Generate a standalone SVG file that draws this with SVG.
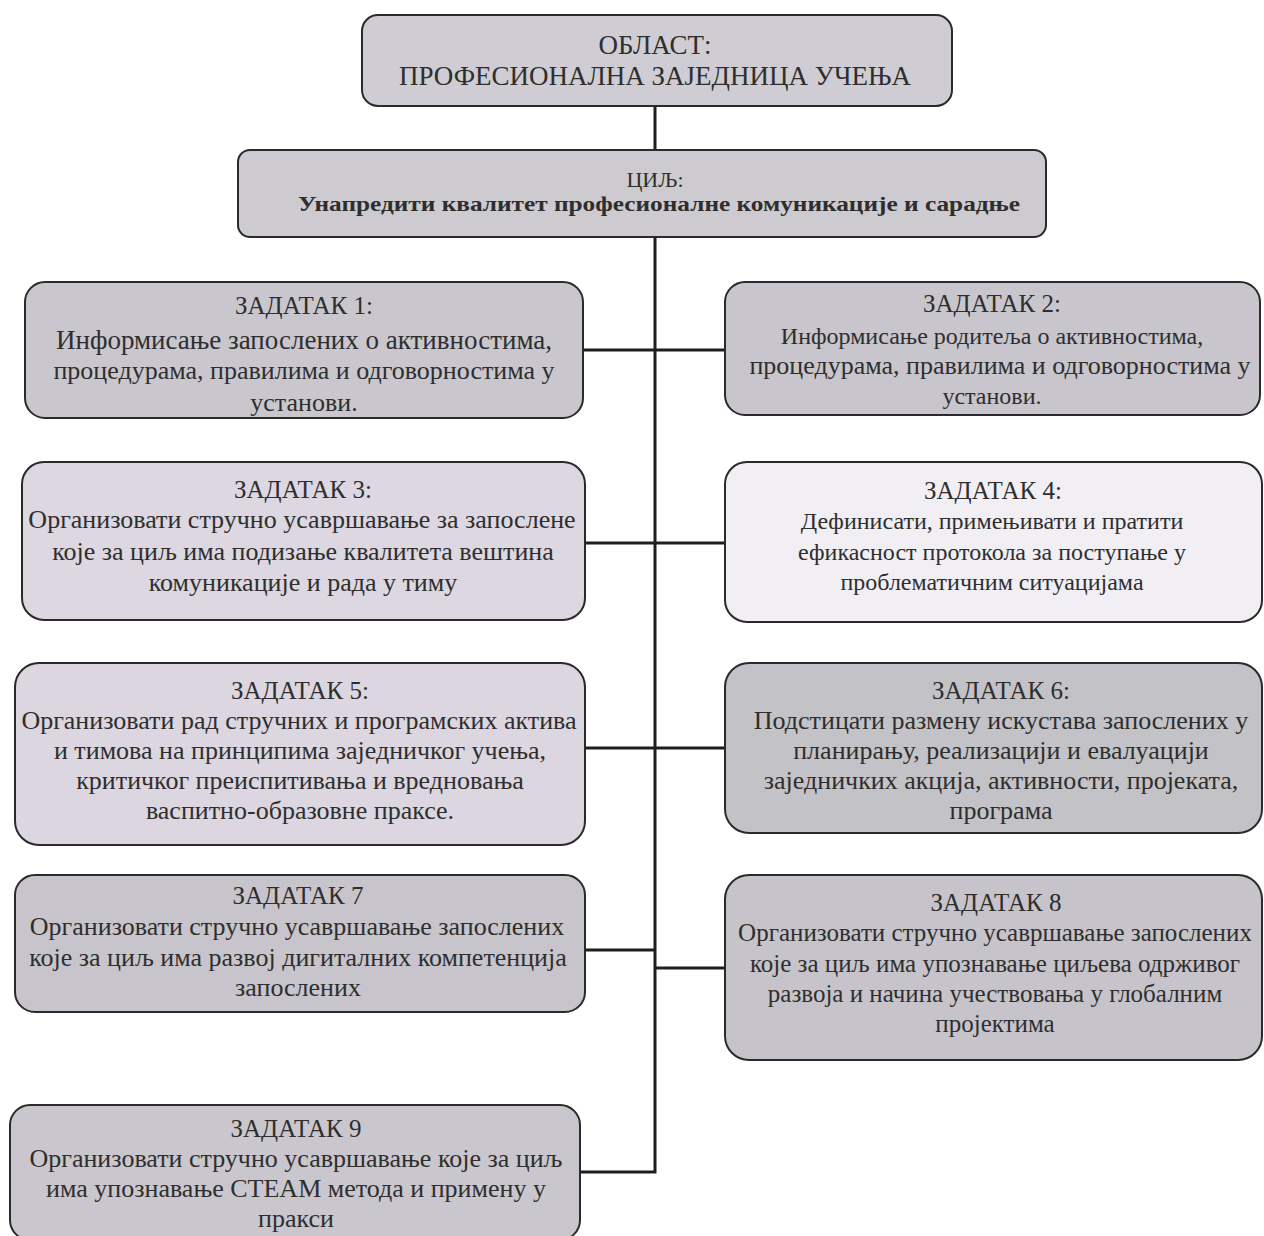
<svg xmlns="http://www.w3.org/2000/svg" width="1264" height="1236" viewBox="0 0 1264 1236">
<style>
.box{stroke:#2a2a2a;stroke-width:2}
.t{font-family:"Liberation Serif","Times New Roman",serif;font-size:26px;fill:#2e2e2e;text-anchor:middle}
.h{font-size:25px}
.m{font-size:24px}
.b{font-weight:bold}
.c{stroke:#1e1e1e;stroke-width:3;fill:none}
</style>
<rect width="1264" height="1236" fill="#ffffff"/>
<g id="connectors">
<line class="c" x1="655" y1="106" x2="655" y2="150"/>
<polyline class="c" points="655,237 655,1172 580,1172"/>
<line class="c" x1="583" y1="350" x2="725" y2="350"/>
<line class="c" x1="585" y1="543" x2="725" y2="543"/>
<line class="c" x1="585" y1="748" x2="725" y2="748"/>
<line class="c" x1="585" y1="950" x2="655" y2="950"/>
<line class="c" x1="655" y1="968" x2="725" y2="968"/>
</g>
<g id="oblast">
<rect class="box" x="362" y="15" width="590" height="91" rx="16" fill="#cfcdd3"/>
<text class="t" x="655" y="54" style="font-size:27px">ОБЛАСТ:</text>
<text class="t" x="655" y="85" style="font-size:27px">ПРОФЕСИОНАЛНА ЗАЈЕДНИЦА УЧЕЊА</text>
</g>
<g id="cilj">
<rect class="box" x="238" y="150" width="808" height="87" rx="12" fill="#cdcbd0"/>
<text class="t" x="655" y="187" style="font-size:22px">ЦИЉ:</text>
<text class="t b" x="659" y="211" style="font-size:22px" textLength="722" lengthAdjust="spacingAndGlyphs">Унапредити квалитет професионалне комуникације и сарадње</text>
</g>
<g id="task1">
<rect class="box" x="25" y="282" width="558" height="136" rx="20" fill="#c9c7cd"/>
<text class="t h" x="304" y="314">ЗАДАТАК 1:</text>
<text class="t" x="304" y="349" style="font-size:27px">Информисање запослених о активностима,</text>
<text class="t" x="304" y="379">процедурама, правилима и одговорностима у</text>
<text class="t" x="304" y="411">установи.</text>
</g>
<g id="task2">
<rect class="box" x="725" y="282" width="535" height="133" rx="20" fill="#c8c6cc"/>
<text class="t h" x="992" y="312">ЗАДАТАК 2:</text>
<text class="t m" x="992" y="344">Информисање родитеља о активностима,</text>
<text class="t" x="1000" y="374">процедурама, правилима и одговорностима у</text>
<text class="t m" x="992" y="404">установи.</text>
</g>
<g id="task3">
<rect class="box" x="22" y="462" width="563" height="158" rx="22" fill="#dcd7e0"/>
<text class="t h" x="303" y="498">ЗАДАТАК 3:</text>
<text class="t" x="302" y="528">Организовати  стручно усавршавање за запослене</text>
<text class="t" x="303" y="560">које за циљ има подизање квалитета вештина</text>
<text class="t" x="303" y="591">комуникације и рада у тиму</text>
</g>
<g id="task4">
<rect class="box" x="725" y="462" width="537" height="160" rx="22" fill="#f1eff3"/>
<text class="t h" x="993" y="499">ЗАДАТАК 4:</text>
<text class="t m" x="992" y="529">Дефинисати, примењивати и пратити</text>
<text class="t m" x="992" y="560">ефикасност протокола за поступање у</text>
<text class="t m" x="992" y="590">проблематичним ситуацијама</text>
</g>
<g id="task5">
<rect class="box" x="15" y="663" width="570" height="182" rx="24" fill="#dcd6e0"/>
<text class="t h" x="300" y="699">ЗАДАТАК 5:</text>
<text class="t" x="299" y="729">Организовати  рад стручних и програмских актива</text>
<text class="t" x="300" y="759">и тимова на принципима заједничког учења,</text>
<text class="t" x="300" y="789">критичког преиспитивања и вредновања</text>
<text class="t" x="300" y="819">васпитно-образовне праксе.</text>
</g>
<g id="task6">
<rect class="box" x="725" y="663" width="537" height="170" rx="24" fill="#c3c2c6"/>
<text class="t h" x="1001" y="699">ЗАДАТАК 6:</text>
<text class="t" x="1001" y="729">Подстицати  размену искустава запослених у</text>
<text class="t" x="1001" y="759">планирању, реализацији и евалуацији</text>
<text class="t" x="1001" y="789">заједничких акција, активности, пројеката,</text>
<text class="t" x="1001" y="819">програма</text>
</g>
<g id="task7">
<rect class="box" x="15" y="875" width="570" height="137" rx="20" fill="#c7c5cb"/>
<text class="t h" x="298" y="904">ЗАДАТАК 7</text>
<text class="t" x="297" y="935">Организовати стручно усавршавање запослених</text>
<text class="t" x="298" y="966">које за циљ има развој дигиталних компетенција</text>
<text class="t" x="298" y="996">запослених</text>
</g>
<g id="task8">
<rect class="box" x="725" y="875" width="537" height="185" rx="24" fill="#c6c4ca"/>
<text class="t h" x="996" y="911">ЗАДАТАК 8</text>
<text class="t h" x="995" y="941">Организовати стручно усавршавање запослених</text>
<text class="t h" x="995" y="972">које за циљ има упознавање  циљева одрживог</text>
<text class="t h" x="995" y="1002">развоја и начина учествовања у глобалним</text>
<text class="t h" x="995" y="1032">пројектима</text>
</g>
<g id="task9">
<rect class="box" x="10" y="1105" width="570" height="135" rx="20" fill="#c9c7cd"/>
<text class="t h" x="296" y="1137">ЗАДАТАК 9</text>
<text class="t" x="296" y="1167">Организовати стручно усавршавање које за циљ</text>
<text class="t" x="296" y="1197">има упознавање СТЕАМ метода и примену у</text>
<text class="t" x="296" y="1227">пракси</text>
</g>
</svg>
